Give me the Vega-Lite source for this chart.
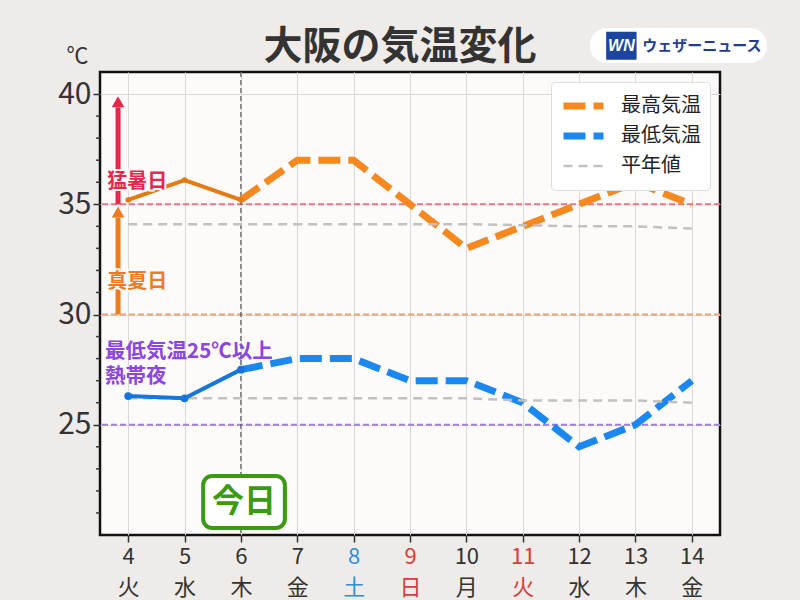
{
  "$schema": "https://vega.github.io/schema/vega-lite/v6.json",
  "width": 620,
  "height": 463,
  "autosize": "none",
  "padding": {"left": 100, "top": 72, "right": 80, "bottom": 65},
  "background": "#eeebe8",
  "config": {
    "font": "Noto Sans CJK JP",
    "view": {"fill": "#fdfafa", "stroke": "#111", "strokeWidth": 2.5},
    "axis": {"labelOverlap": false, "labelBound": false, "labelFlush": false}
  },
  "title": {
    "text": "大阪の気温変化",
    "fontSize": 39,
    "fontWeight": "bold",
    "color": "#333",
    "anchor": "middle",
    "dx": -10,
    "offset": -39,
    "font": "Noto Sans CJK JP"
  },
  "data": {"values": [{}]},
  "datasets": {
    "minorTicks": [
      {"v": 21}, {"v": 22}, {"v": 23}, {"v": 24}, {"v": 26}, {"v": 27}, {"v": 28}, {"v": 29},
      {"v": 31}, {"v": 32}, {"v": 33}, {"v": 34}, {"v": 36}, {"v": 37}, {"v": 38}, {"v": 39}
    ],
    "temps": [
      {"day": 4, "temp": 35.2, "series": "最高気温", "phase": "obs", "grp": "max"},
      {"day": 5, "temp": 36.1, "series": "最高気温", "phase": "obs", "grp": "max"},
      {"day": 6, "temp": 35.2, "series": "最高気温", "phase": "obs", "grp": "max"},
      {"day": 4, "temp": 26.3, "series": "最低気温", "phase": "obs", "grp": "min"},
      {"day": 5, "temp": 26.2, "series": "最低気温", "phase": "obs", "grp": "min"},
      {"day": 6, "temp": 27.5, "series": "最低気温", "phase": "obs", "grp": "min"},
      {"day": 6, "temp": 35.2, "series": "最高気温", "phase": "fc", "grp": "max"},
      {"day": 7, "temp": 37, "series": "最高気温", "phase": "fc", "grp": "max"},
      {"day": 8, "temp": 37, "series": "最高気温", "phase": "fc", "grp": "max"},
      {"day": 9, "temp": 35, "series": "最高気温", "phase": "fc", "grp": "max"},
      {"day": 10, "temp": 33, "series": "最高気温", "phase": "fc", "grp": "max"},
      {"day": 11, "temp": 34, "series": "最高気温", "phase": "fc", "grp": "max"},
      {"day": 12, "temp": 35, "series": "最高気温", "phase": "fc", "grp": "max"},
      {"day": 13, "temp": 36, "series": "最高気温", "phase": "fc", "grp": "max"},
      {"day": 14, "temp": 35, "series": "最高気温", "phase": "fc", "grp": "max"},
      {"day": 6, "temp": 27.5, "series": "最低気温", "phase": "fc", "grp": "min"},
      {"day": 7, "temp": 28, "series": "最低気温", "phase": "fc", "grp": "min"},
      {"day": 8, "temp": 28, "series": "最低気温", "phase": "fc", "grp": "min"},
      {"day": 9, "temp": 27, "series": "最低気温", "phase": "fc", "grp": "min"},
      {"day": 10, "temp": 27, "series": "最低気温", "phase": "fc", "grp": "min"},
      {"day": 11, "temp": 26, "series": "最低気温", "phase": "fc", "grp": "min"},
      {"day": 12, "temp": 24, "series": "最低気温", "phase": "fc", "grp": "min"},
      {"day": 13, "temp": 25, "series": "最低気温", "phase": "fc", "grp": "min"},
      {"day": 14, "temp": 27, "series": "最低気温", "phase": "fc", "grp": "min"},
      {"day": 4, "temp": 34.1, "series": "平年値", "phase": "fc", "grp": "nmax"},
      {"day": 5, "temp": 34.1, "series": "平年値", "phase": "fc", "grp": "nmax"},
      {"day": 6, "temp": 34.1, "series": "平年値", "phase": "fc", "grp": "nmax"},
      {"day": 7, "temp": 34.1, "series": "平年値", "phase": "fc", "grp": "nmax"},
      {"day": 8, "temp": 34.1, "series": "平年値", "phase": "fc", "grp": "nmax"},
      {"day": 9, "temp": 34.1, "series": "平年値", "phase": "fc", "grp": "nmax"},
      {"day": 10, "temp": 34.1, "series": "平年値", "phase": "fc", "grp": "nmax"},
      {"day": 11, "temp": 34.05, "series": "平年値", "phase": "fc", "grp": "nmax"},
      {"day": 12, "temp": 34.0, "series": "平年値", "phase": "fc", "grp": "nmax"},
      {"day": 13, "temp": 34.0, "series": "平年値", "phase": "fc", "grp": "nmax"},
      {"day": 14, "temp": 33.9, "series": "平年値", "phase": "fc", "grp": "nmax"},
      {"day": 4, "temp": 26.2, "series": "平年値", "phase": "fc", "grp": "nmin"},
      {"day": 5, "temp": 26.2, "series": "平年値", "phase": "fc", "grp": "nmin"},
      {"day": 6, "temp": 26.2, "series": "平年値", "phase": "fc", "grp": "nmin"},
      {"day": 7, "temp": 26.2, "series": "平年値", "phase": "fc", "grp": "nmin"},
      {"day": 8, "temp": 26.2, "series": "平年値", "phase": "fc", "grp": "nmin"},
      {"day": 9, "temp": 26.2, "series": "平年値", "phase": "fc", "grp": "nmin"},
      {"day": 10, "temp": 26.2, "series": "平年値", "phase": "fc", "grp": "nmin"},
      {"day": 11, "temp": 26.1, "series": "平年値", "phase": "fc", "grp": "nmin"},
      {"day": 12, "temp": 26.1, "series": "平年値", "phase": "fc", "grp": "nmin"},
      {"day": 13, "temp": 26.1, "series": "平年値", "phase": "fc", "grp": "nmin"},
      {"day": 14, "temp": 26.0, "series": "平年値", "phase": "fc", "grp": "nmin"}
    ]
  },
  "layer": [
    {
      "data": {"name": "temps"},
      "transform": [{"filter": "datum.phase == 'fc'"}],
      "mark": {"type": "line", "opacity": 0},
      "encoding": {
        "x": {
          "field": "day",
          "type": "quantitative",
          "scale": {"domain": [3.5, 14.5], "nice": false, "zero": false},
          "axis": {
            "title": null,
            "values": [4, 5, 6, 7, 8, 9, 10, 11, 12, 13, 14],
            "format": "d",
            "labelExpr": "[datum.label, ['火','水','木','金','土','日','月','火','水','木','金'][datum.value-4]]",
            "labelFontSize": 22,
            "labelLineHeight": 31,
            "labelPadding": 4,
            "labelOverlap": false,
            "labelColor": {
              "condition": [
                {"test": "datum.value == 8", "value": "#2f8fdc"},
                {"test": "datum.value == 9 || datum.value == 11", "value": "#d83c3c"}
              ],
              "value": "#333"
            },
            "domain": false,
            "tickColor": "#333",
            "tickSize": 7,
            "tickWidth": 1.5,
            "grid": true,
            "gridColor": "#d9d9d9",
            "gridWidth": 1
          }
        },
        "y": {
          "field": "temp",
          "type": "quantitative",
          "scale": {"domain": [20, 41], "nice": false, "zero": false},
          "axis": {
            "title": "℃",
            "titleAngle": 0,
            "titleX": -23,
            "titleY": -10,
            "titleAlign": "center",
            "titleBaseline": "alphabetic",
            "titleFontSize": 22,
            "titleFontWeight": "normal",
            "titleColor": "#333",
            "values": [25, 30, 35, 40],
            "format": "d",
            "labelOverlap": false,
            "labelFontSize": 30,
            "labelColor": "#333",
            "labelPadding": 2,
            "domain": false,
            "tickColor": "#333",
            "tickWidth": 1.5,
            "tickSize": 7,
            "grid": true,
            "gridColor": "#d9d9d9"
          }
        }
      }
    },
    {
      "data": {"name": "minorTicks"},
      "mark": {"type": "rule", "stroke": "#333", "strokeWidth": 1.5},
      "encoding": {
        "x": {"datum": 3.43, "type": "quantitative"},
        "x2": {"datum": 3.5},
        "y": {"field": "v", "type": "quantitative"}
      }
    },
    {
      "mark": {"type": "rule", "stroke": "#e87585", "strokeWidth": 2, "strokeDash": [6, 3]},
      "encoding": {"y": {"datum": 35, "type": "quantitative"}}
    },
    {
      "mark": {"type": "rule", "stroke": "#f5a070", "strokeWidth": 2, "strokeDash": [6, 3]},
      "encoding": {"y": {"datum": 30, "type": "quantitative"}}
    },
    {
      "mark": {"type": "rule", "stroke": "#a87ae8", "strokeWidth": 2, "strokeDash": [6, 3]},
      "encoding": {"y": {"datum": 25, "type": "quantitative"}}
    },
    {
      "mark": {"type": "rule", "stroke": "#555", "strokeWidth": 1.2, "strokeDash": [5, 3]},
      "encoding": {"x": {"datum": 6, "type": "quantitative"}}
    },
    {
      "data": {"name": "temps"},
      "transform": [{"filter": "datum.phase == 'fc'"}],
      "mark": {"type": "line", "strokeCap": "butt", "strokeJoin": "miter"},
      "encoding": {
        "x": {"field": "day", "type": "quantitative"},
        "y": {"field": "temp", "type": "quantitative"},
        "detail": {"field": "grp"},
        "color": {
          "field": "series",
          "type": "nominal",
          "scale": {"domain": ["最高気温", "最低気温", "平年値"], "range": ["#f5891f", "#1a88f0", "#c4c0c0"]},
          "legend": {
            "title": null,
            "orient": "top-right",
            "offset": 10,
            "fillColor": "white",
            "strokeColor": "#dddddd",
            "cornerRadius": 4,
            "padding": 9,
            "labelFontSize": 20,
            "labelColor": "#222",
            "labelOffset": 14,
            "rowPadding": 0,
            "symbolSize": 1600,
            "clipHeight": 30,
            "symbolType": "stroke"
          }
        },
        "strokeDash": {
          "field": "series",
          "type": "nominal",
          "scale": {"domain": ["最高気温", "最低気温", "平年値"], "range": [[22, 8], [22, 8], [9, 6]]},
          "legend": {"title": null}
        },
        "strokeWidth": {
          "field": "series",
          "type": "nominal",
          "scale": {"type": "ordinal", "domain": ["最高気温", "最低気温", "平年値"], "range": [7, 7, 2.5]},
          "legend": {"title": null}
        }
      }
    },
    {
      "data": {"name": "temps"},
      "transform": [{"filter": "datum.phase == 'obs' && datum.grp == 'max'"}],
      "mark": {"type": "line", "stroke": "#e27b12", "strokeWidth": 4, "point": {"filled": true, "fill": "#e27b12", "size": 30}},
      "encoding": {"x": {"field": "day", "type": "quantitative"}, "y": {"field": "temp", "type": "quantitative"}}
    },
    {
      "data": {"name": "temps"},
      "transform": [{"filter": "datum.phase == 'obs' && datum.grp == 'min'"}],
      "mark": {"type": "line", "stroke": "#1576dc", "strokeWidth": 4, "point": {"filled": true, "fill": "#1576dc", "size": 60}},
      "encoding": {"x": {"field": "day", "type": "quantitative"}, "y": {"field": "temp", "type": "quantitative"}}
    },
    {
      "mark": {"type": "rule", "stroke": "#e8254a", "strokeWidth": 5},
      "encoding": {"x": {"datum": 3.82, "type": "quantitative"}, "y": {"datum": 35, "type": "quantitative"}, "y2": {"datum": 39.4}}
    },
    {
      "mark": {"type": "point", "shape": "triangle-up", "filled": true, "fill": "#e8254a", "opacity": 1, "size": 160},
      "encoding": {"x": {"datum": 3.82, "type": "quantitative"}, "y": {"datum": 39.65, "type": "quantitative"}}
    },
    {
      "mark": {"type": "rule", "stroke": "#f07a1e", "strokeWidth": 5},
      "encoding": {"x": {"datum": 3.82, "type": "quantitative"}, "y": {"datum": 30, "type": "quantitative"}, "y2": {"datum": 34.4}}
    },
    {
      "mark": {"type": "point", "shape": "triangle-up", "filled": true, "fill": "#f07a1e", "opacity": 1, "size": 160},
      "encoding": {"x": {"datum": 3.82, "type": "quantitative"}, "y": {"datum": 34.65, "type": "quantitative"}}
    },
    {
      "mark": {"type": "text", "text": "猛暑日", "fontSize": 20, "fontWeight": "bold", "align": "center", "baseline": "middle", "stroke": "#fdfafa", "strokeWidth": 4, "fill": "#fdfafa"},
      "encoding": {"x": {"datum": 4.16, "type": "quantitative"}, "y": {"datum": 36.0, "type": "quantitative"}}
    },
    {
      "mark": {"type": "text", "text": "猛暑日", "fontSize": 20, "fontWeight": "bold", "align": "center", "baseline": "middle", "fill": "#e8254a"},
      "encoding": {"x": {"datum": 4.16, "type": "quantitative"}, "y": {"datum": 36.0, "type": "quantitative"}}
    },
    {
      "mark": {"type": "text", "text": "真夏日", "fontSize": 20, "fontWeight": "bold", "align": "center", "baseline": "middle", "stroke": "#fdfafa", "strokeWidth": 4, "fill": "#fdfafa"},
      "encoding": {"x": {"datum": 4.16, "type": "quantitative"}, "y": {"datum": 31.48, "type": "quantitative"}}
    },
    {
      "mark": {"type": "text", "text": "真夏日", "fontSize": 20, "fontWeight": "bold", "align": "center", "baseline": "middle", "fill": "#f07a1e"},
      "encoding": {"x": {"datum": 4.16, "type": "quantitative"}, "y": {"datum": 31.48, "type": "quantitative"}}
    },
    {
      "mark": {"type": "text", "text": "最低気温25℃以上", "fontSize": 20.5, "fontWeight": "bold", "align": "left", "baseline": "middle", "fill": "#8b45e0"},
      "encoding": {"x": {"datum": 3.59, "type": "quantitative"}, "y": {"datum": 28.3, "type": "quantitative"}}
    },
    {
      "mark": {"type": "text", "text": "熱帯夜", "fontSize": 20.5, "fontWeight": "bold", "align": "left", "baseline": "middle", "fill": "#8b45e0"},
      "encoding": {"x": {"datum": 3.59, "type": "quantitative"}, "y": {"datum": 27.15, "type": "quantitative"}}
    },
    {
      "mark": {"type": "rect", "fill": "white", "stroke": "#3a9a12", "strokeWidth": 4, "cornerRadius": 9},
      "encoding": {"x": {"datum": 5.33, "type": "quantitative"}, "x2": {"datum": 6.78}, "y": {"datum": 22.68, "type": "quantitative"}, "y2": {"datum": 20.32}}
    },
    {
      "mark": {"type": "text", "text": "今日", "fontSize": 32, "fontWeight": "bold", "fill": "#3a9a12", "align": "center", "baseline": "middle"},
      "encoding": {"x": {"datum": 6.055, "type": "quantitative"}, "y": {"datum": 21.5, "type": "quantitative"}}
    },
    {
      "mark": {"type": "rect", "fill": "white", "cornerRadius": 17},
      "encoding": {"x": {"datum": 12.19, "type": "quantitative"}, "x2": {"datum": 15.33}, "y": {"datum": 43.0, "type": "quantitative"}, "y2": {"datum": 41.41}}
    },
    {
      "mark": {"type": "rect", "fill": "#1c45a0"},
      "encoding": {"x": {"datum": 12.48, "type": "quantitative"}, "x2": {"datum": 13.02}, "y": {"datum": 42.82, "type": "quantitative"}, "y2": {"datum": 41.55}}
    },
    {
      "mark": {"type": "text", "text": "WN", "fontSize": 16, "fontWeight": "bold", "fontStyle": "italic", "fill": "white", "align": "center", "baseline": "middle", "font": "Liberation Sans"},
      "encoding": {"x": {"datum": 12.75, "type": "quantitative"}, "y": {"datum": 42.18, "type": "quantitative"}}
    },
    {
      "mark": {"type": "text", "text": "ウェザーニュース", "fontSize": 15, "fontWeight": "bold", "fill": "#1f3c8f", "align": "left", "baseline": "middle"},
      "encoding": {"x": {"datum": 13.12, "type": "quantitative"}, "y": {"datum": 42.18, "type": "quantitative"}}
    }
  ]
}
